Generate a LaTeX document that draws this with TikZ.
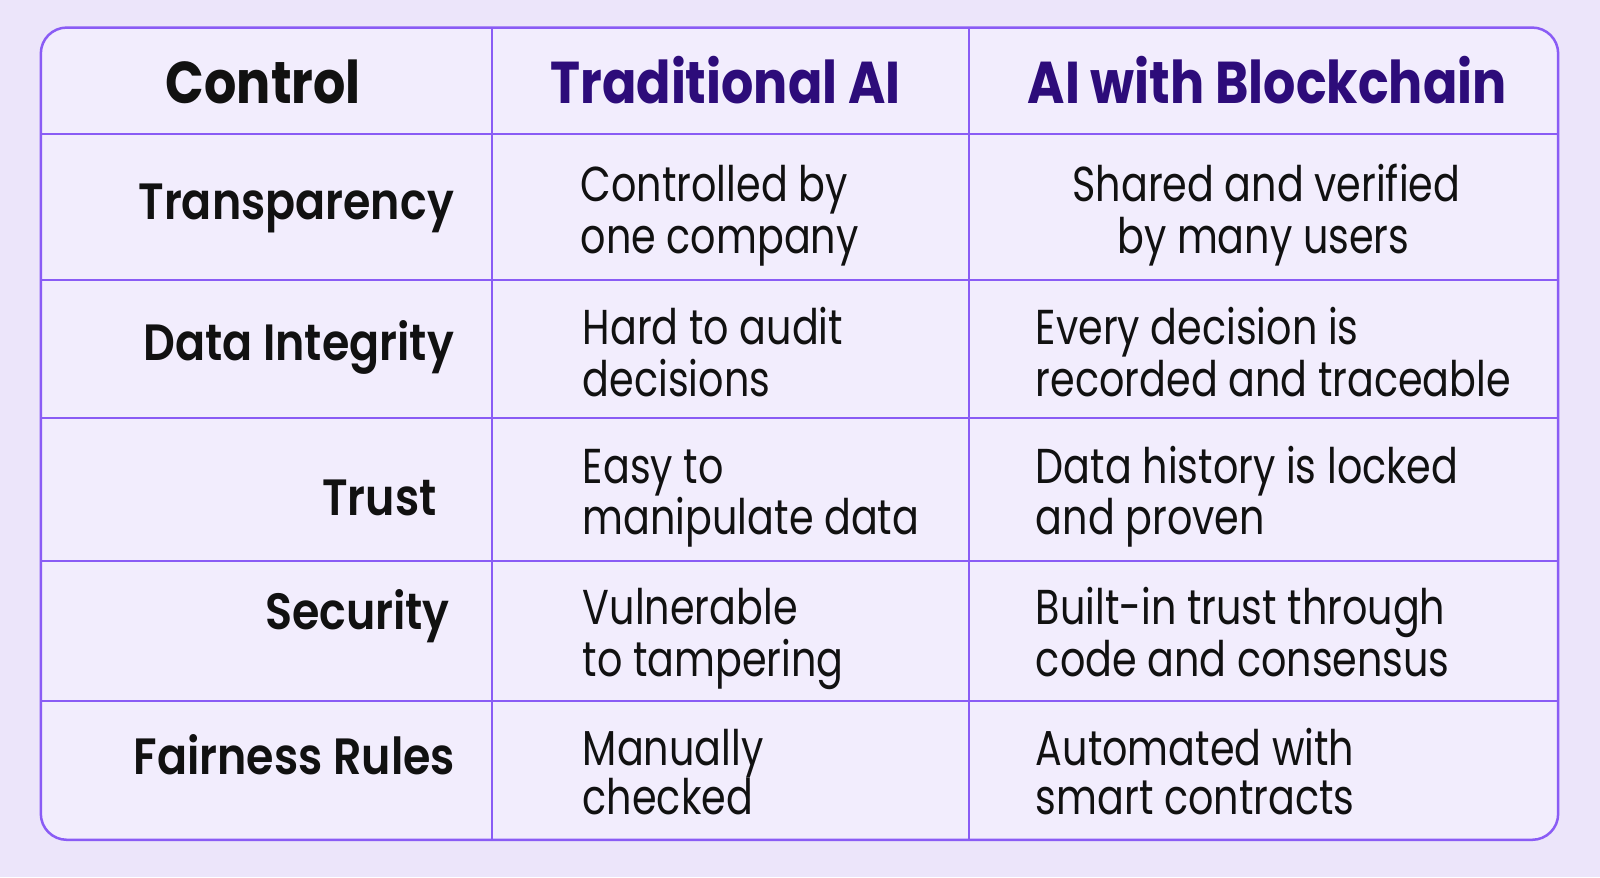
\documentclass[tikz,border=0pt]{standalone}
\usepackage{fontspec}
\setmainfont{Poppins}
\newfontfamily\bodyfont[FakeStretch=0.81]{Poppins}
\newfontfamily\colfont[FakeStretch=0.86]{Poppins Bold}
\newfontfamily\rowfont[FakeStretch=0.87]{Poppins SemiBold}
\definecolor{bgc}{HTML}{ECE5FA}
\definecolor{cellc}{HTML}{F2EDFD}
\definecolor{linec}{HTML}{8A5CF5}
\definecolor{headc}{HTML}{2D0C7A}
\definecolor{textc}{HTML}{111111}
\tikzset{
  grid/.style={draw=linec, line width=2pt},
  colhead/.style={font=\colfont\fontsize{59}{64}\selectfont, text=headc, inner sep=0pt, anchor=base},
  rowhead/.style={font=\rowfont\fontsize{51}{56}\selectfont, text=textc, inner sep=0pt, anchor=base east},
  body/.style={font=\bodyfont\fontsize{49}{53}\selectfont, text=textc, inner sep=0pt, anchor=base west},
  bodyc/.style={font=\bodyfont\fontsize{49}{53}\selectfont, text=textc, inner sep=0pt, anchor=base},
}
\begin{document}
\begin{tikzpicture}[x=1.0204pt,y=-1.0204pt]
\fill[bgc] (0,0) rectangle (1568,859.46);
\useasboundingbox (0,0) rectangle (1568,859.46);
\draw[grid, fill=cellc, line width=2.5pt, rounded corners=26pt] (40,27) rectangle (1527,823);
% grid lines
\coordinate (c1t) at (482,27); \coordinate (c1b) at (482,823);
\coordinate (c2t) at (950,27); \coordinate (c2b) at (950,823);
\draw[grid] (c1t) -- (c1b);
\draw[grid] (c2t) -- (c2b);
\foreach \yy in {131,274,410,550,687}{
  \draw[grid] (40,\yy) -- (1527,\yy);
}
% header
\node[colhead, text=textc] (hctrl) at (258,101) {Control};
\node[colhead] (htrad) at (711,101) {Traditional AI};
\node[colhead] (hblock) at (1242,101) {AI with Blockchain};
% row heads
\node[rowhead] (r1) at (445,215) {Transparency};
\node[rowhead] (r2) at (445,353) {Data Integrity};
\node[rowhead] (r3) at (428,505) {Trust};
\node[rowhead] (r4) at (441,617) {Security};
\node[rowhead] (r5) at (446,759) {Fairness Rules};
% column 2
\node[body] (a1) at (569,197) {Controlled by};
\node[body] (a1b) at (569,248) {one company};
\node[body] (a2) at (571,338) {Hard to audit};
\node[body] (a2b) at (571,389) {decisions};
\node[body] (a3) at (571,474) {Easy to};
\node[body] (a3b) at (571,524) {manipulate data};
\node[body] (a4) at (571,612) {Vulnerable};
\node[body] (a4b) at (571,663) {to tampering};
\node[body] (a5) at (571,750) {Manually};
\node[body] (a5b) at (571,798) {checked};
% column 3
\node[bodyc] (b1) at (1241,197) {Shared and verified};
\node[bodyc] (b1b) at (1238,248) {by many users};
\node[body] (b2) at (1015,338) {Every decision is};
\node[body] (b2b) at (1015,389) {recorded and traceable};
\node[body] (b3) at (1015,474) {Data history is locked};
\node[body] (b3b) at (1015,524) {and proven};
\node[body] (b4) at (1015,612) {Built-in trust through};
\node[body] (b4b) at (1015,663) {code and consensus};
\node[body] (b5) at (1015,750) {Automated with};
\node[body] (b5b) at (1015,798) {smart contracts};
\end{tikzpicture}
\end{document}
